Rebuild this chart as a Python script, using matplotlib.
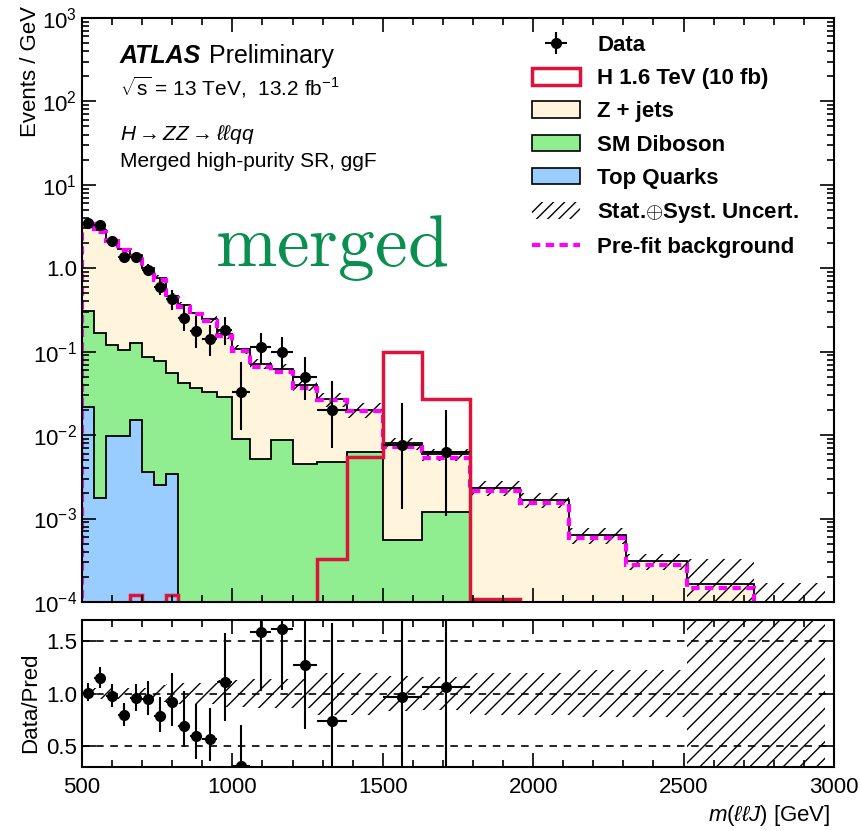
import numpy as np
import matplotlib
matplotlib.use('Agg')
import matplotlib.pyplot as plt
from matplotlib.patches import Patch
from matplotlib.lines import Line2D
from matplotlib.ticker import MultipleLocator, LogLocator, NullFormatter, NullLocator, FixedLocator, FixedFormatter

plt.rcParams['font.family'] = ['Liberation Sans', 'DejaVu Sans']
plt.rcParams['mathtext.fontset'] = 'custom'
plt.rcParams['mathtext.rm'] = 'Liberation Sans'
plt.rcParams['mathtext.it'] = 'Liberation Sans:italic'
plt.rcParams['mathtext.bf'] = 'Liberation Sans:bold'
plt.rcParams['hatch.linewidth'] = 1.0

# bin edges in m(llJ) [GeV]
edges = [500, 540, 580, 620, 660, 700, 740, 780, 820, 860, 900, 950, 1000, 1060,
         1130, 1200, 1280, 1380, 1500, 1630, 1790, 1955, 2120, 2310, 2510, 2735, 2970]

# backgrounds, events / GeV (post-fit)
top_quarks = [0.0219, 0.00176, 0.00973, 0.00973, 0.0152, 0.00361, 0.0025, 0.00339,
              0, 0, 0, 0, 0, 0, 0, 0, 0, 0, 0, 0, 0, 0, 0, 0, 0, 0]
diboson = [0.284, 0.166, 0.109, 0.094, 0.112, 0.0827, 0.0739, 0.0529, 0.0427, 0.0365,
           0.0333, 0.0289, 0.00895, 0.00514, 0.0087, 0.00456, 0.00477, 0.00629,
           0.000558, 0.00119, 0, 0, 0, 0, 0, 0]
zjets = [3.14, 2.71, 2.05, 1.62, 1.31, 0.914, 0.684, 0.404, 0.317, 0.258, 0.212, 0.134,
         0.098, 0.0669, 0.0533, 0.0349, 0.0222, 0.0137, 0.00744, 0.0047, 0.00234,
         0.00168, 0.00064, 0.000312, 0.000165, 0.00008]
# relative stat+syst uncertainty on the total background
rel_unc = [0.04, 0.05, 0.05, 0.05, 0.05, 0.05, 0.08, 0.09, 0.1, 0.1, 0.1, 0.13, 0.13,
           0.14, 0.14, 0.14, 0.2, 0.2, 0.17, 0.16, 0.2, 0.2, 0.22, 0.22, 1.0, 1.1]
prefit = [3.40, 2.75, 2.10, 1.66, 1.42, 0.96, 0.73, 0.44, 0.345, 0.28, 0.235, 0.156,
          0.102, 0.066, 0.0565, 0.0372, 0.0263, 0.0195, 0.00723, 0.00537, 0.00215,
          0.00153, 0.000578, 0.000277, 0.000149, 0.00007]
# H 1.6 TeV signal (10 fb)
signal = [0, 0, 0, 0, 1.2e-4, 0, 0, 1.2e-4, 0, 0, 0, 0, 0, 0, 0, 0, 3.27e-4, 0.00548,
          0.0982, 0.0269, 1.08e-4, 0, 0, 0, 0, 0]

# data, events / GeV, with lower / upper ends of the error bars
data = [3.475, 3.3, 2.125, 1.375, 1.375, 0.95, 0.6, 0.425, 0.25, 0.175, 0.14, 0.18,
        0.0333, 0.114, 0.1, 0.05, 0.02, np.nan, 0.0077, 0.00625]
data_lo = [3.19, 3.02, 1.90, 1.195, 1.195, 0.80, 0.48, 0.32, 0.176, 0.111, 0.088, 0.121,
           0.0115, 0.074, 0.064, 0.026, 0.0070, np.nan, 0.00131, 0.00106]
data_hi = [3.78, 3.60, 2.37, 1.57, 1.57, 1.12, 0.735, 0.55, 0.368, 0.266, 0.211, 0.257,
           0.075, 0.169, 0.150, 0.0865, 0.0451, np.nan, 0.0245, 0.0201]

c_z = '#fff5dc'
c_db = '#90ee90'
c_top = '#99ccff'
c_sig = '#dc143c'
c_pre = '#ff00ff'

edges = np.array(edges, float)
centers = 0.5 * (edges[1:] + edges[:-1])
halfw = 0.5 * np.diff(edges)
nd = len(data)
data = np.array(data)
data_lo = np.array(data_lo)
data_hi = np.array(data_hi)
u = np.array(rel_unc)

cum_top = np.array(top_quarks)
cum_db = cum_top + np.array(diboson)
total = cum_db + np.array(zjets)

fig = plt.figure(figsize=(8.61, 8.31), dpi=100)
ax = fig.add_axes([0.0952, 0.2756, 0.8734, 0.7028])
axr = fig.add_axes([0.0952, 0.077, 0.8734, 0.1769], sharex=ax)

floor = 1e-8
ax.stairs(total, edges, baseline=floor, fill=True, color=c_z, lw=0)
ax.stairs(cum_db, edges, baseline=floor, fill=True, color=c_db, lw=0)
ax.stairs(cum_top, edges, baseline=floor, fill=True, color=c_top, lw=0)
for arr in (cum_top, cum_db, total):
    ax.stairs(arr, edges, baseline=None, color='black', lw=1.3)

ax.stairs(total * (1 + u), edges, baseline=total * (1 - u), fill=True,
          facecolor='none', edgecolor='black', hatch='//', lw=0)
ax.stairs(prefit, edges, baseline=0, color=c_pre, lw=3, ls=(0, (2, 1.3)))
ax.stairs(signal, edges, baseline=0, color=c_sig, lw=2.5)

ok = ~np.isnan(data)
eb = ax.errorbar(centers[:nd][ok], data[ok], xerr=halfw[:nd][ok],
                 yerr=[data[ok] - data_lo[ok], data_hi[ok] - data[ok]],
                 fmt='o', color='black', ms=7, lw=1.5, capsize=0, zorder=5)

ax.set_xlim(500, 3000)
ax.set_yscale('log')
ax.set_ylim(1e-4, 1e3)
ax.yaxis.set_major_locator(FixedLocator([1e-4, 1e-3, 1e-2, 1e-1, 1, 10, 100, 1000]))
ax.yaxis.set_major_formatter(FixedFormatter([r'$10^{-4}$', r'$10^{-3}$', r'$10^{-2}$',
                                             r'$10^{-1}$', '1.0', r'$10^{1}$',
                                             r'$10^{2}$', r'$10^{3}$']))
ax.yaxis.set_minor_locator(LogLocator(base=10, subs=np.arange(2, 10), numticks=20))
ax.yaxis.set_minor_formatter(NullFormatter())
ax.xaxis.set_major_locator(MultipleLocator(500))
ax.xaxis.set_minor_locator(MultipleLocator(100))
ax.set_ylabel('Events / GeV', fontsize=16, loc='top')
ax.yaxis.set_label_coords(-0.0545, 1.02)

# ratio panel
tot_d = total[:nd]
ratio = data / tot_d
axr.stairs(1 + u, edges, baseline=1 - u, fill=True, facecolor='none',
           edgecolor='black', hatch='//', lw=0)
for yv in (0.5, 1.0, 1.5):
    axr.axhline(yv, color='black', lw=1.2, ls=(0, (4.5, 4)), zorder=3)
axr.errorbar(centers[:nd][ok], ratio[ok], xerr=halfw[:nd][ok],
             yerr=[(data[ok] - data_lo[ok]) / tot_d[ok], (data_hi[ok] - data[ok]) / tot_d[ok]],
             fmt='o', color='black', ms=7, lw=1.5, capsize=0, zorder=5)
axr.set_ylim(0.3, 1.7)
axr.yaxis.set_major_locator(FixedLocator([0.5, 1.0, 1.5]))
axr.yaxis.set_major_formatter(FixedFormatter(['0.5', '1.0', '1.5']))
axr.yaxis.set_minor_locator(NullLocator())
axr.set_ylabel('Data/Pred', fontsize=16)
axr.yaxis.set_label_coords(-0.0545, 0.44)
axr.set_xlabel(r'$m(\ell\ell J)$ [GeV]', fontsize=16, loc='right')
axr.xaxis.set_label_coords(0.9947, -0.245)

for a in (ax, axr):
    a.tick_params(which='both', direction='in', top=True, right=True, labelsize=16, width=1.2)
    a.tick_params(which='major', length=10)
    a.tick_params(which='minor', length=5)
    for s in a.spines.values():
        s.set_linewidth(1.5)
ax.tick_params(labelbottom=False)
axr.tick_params(axis='x', pad=7)

# labels
tr = ax.transAxes
ax.text(0.0505, 0.923, 'ATLAS', transform=tr, fontsize=18, fontweight='bold',
        fontstyle='italic', va='baseline')
ax.text(0.169, 0.923, 'Preliminary', transform=tr, fontsize=18, va='baseline')
ax.text(0.0505, 0.868, r'$\sqrt{\mathrm{s}}$ = 13 TeV,  13.2 fb$^{-1}$', transform=tr,
        fontsize=15, va='baseline')
ax.text(0.0505, 0.791, r'$H \rightarrow ZZ \rightarrow \ell\ell qq$', transform=tr,
        fontsize=15, va='baseline')
ax.text(0.0505, 0.745, 'Merged high-purity SR, ggF', transform=tr, fontsize=15,
        va='baseline')
ax.text(0.177, 0.575, r'$\mathrm{merged}$', transform=tr, fontsize=53, color='#0a8f50',
        math_fontfamily='cm', va='baseline')

handles = [eb,
           Patch(facecolor='white', edgecolor=c_sig, lw=2.5),
           Patch(facecolor=c_z, edgecolor='black', lw=1.2),
           Patch(facecolor=c_db, edgecolor='black', lw=1.2),
           Patch(facecolor=c_top, edgecolor='black', lw=1.2),
           Patch(facecolor='none', edgecolor='black', hatch='///', lw=0),
           Line2D([], [], color=c_pre, lw=3, ls=(0, (2, 1.3)))]
labels = ['Data', 'H 1.6 TeV (10 fb)', 'Z + jets', 'SM Diboson', 'Top Quarks',
          r'Stat.$\oplus$Syst. Uncert.', 'Pre-fit background']
ax.legend(handles, labels, loc='upper left', bbox_to_anchor=(0.598, 0.971), frameon=False,
          prop={'weight': 'bold', 'size': 16}, handlelength=2.16, handleheight=0.77,
          handletextpad=0.8, labelspacing=0.55, borderpad=0, borderaxespad=0)

fig.savefig('out.png', dpi=100)
